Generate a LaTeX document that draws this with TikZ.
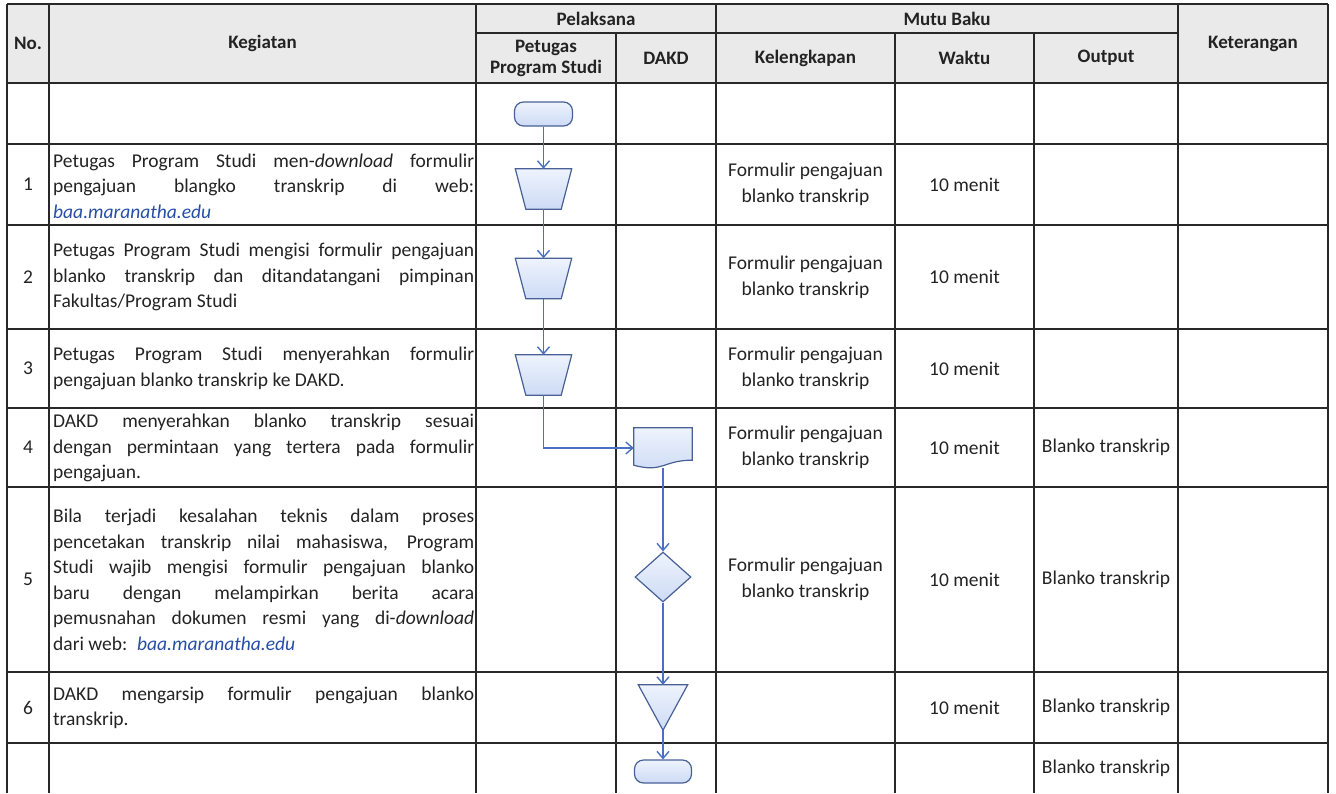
\documentclass[tikz,border=0pt]{standalone}
\usepackage{fontspec}
\setmainfont{Carlito}
\usepackage{tikz}
\usetikzlibrary{calc, arrows.meta, shapes.geometric}

\definecolor{garis}{RGB}{40,40,40}
\definecolor{kepala}{RGB}{234,234,234}
\definecolor{isi}{RGB}{205,219,245}
\definecolor{isiatas}{RGB}{238,243,253}
\definecolor{tepi}{RGB}{72,96,150}
\definecolor{alur}{RGB}{74,112,196}
\definecolor{tautan}{RGB}{38,78,168}
\definecolor{tinta}{RGB}{35,35,35}

\tikzstyle{judul} = [
    font = \fontsize{19}{21}\selectfont\bfseries,
    text = tinta,
    align = center,
    inner sep = 0
]
\tikzstyle{sel} = [
    font = \fontsize{19.5}{26}\selectfont,
    text = tinta,
    align = center,
    inner sep = 0
]
\tikzstyle{kegiatan} = [
    font = \fontsize{19.5}{25.5}\selectfont,
    text = tinta,
    align = left,
    anchor = west,
    inner sep = 0
]
\tikzstyle{bentuk} = [
    draw = tepi,
    line width = 1.2pt,
    top color = isiatas,
    bottom color = isi
]
\tikzstyle{terminal} = [
    bentuk,
    rectangle,
    rounded corners = 9pt,
    minimum width = 58pt,
    minimum height = 24pt,
    inner sep = 0
]
\tikzstyle{keputusan} = [
    bentuk,
    diamond,
    minimum width = 56pt,
    minimum height = 50pt,
    inner sep = 0
]
\tikzstyle{kotak} = [
    rectangle,
    inner sep = 0
]
\tikzstyle{alir} = [
    draw = alur,
    line width = 1.4pt,
    -{Straight Barb[length=7pt, width=12pt]}
]

\newcommand{\jl}[1]{\makebox[421pt][s]{#1}}
\newcommand{\web}{\textit{\color{tautan}baa.maranatha.edu}}

\begin{document}
\begin{tikzpicture}[x=1pt, y=-1pt]
        \useasboundingbox (0,0) rectangle (1336,793);

        %% Header background
        \fill[kepala] (7,4) rectangle (1328,83);

        %% Grid
        \begin{scope}[draw=garis, line width=1.6pt]
            \draw (7,4) -- (1328,4);
            \draw (476,33) -- (1178,33);
            \foreach \y in {83,144,225,329,408,487,672,743}
                \draw (7,\y) -- (1328,\y);
            \foreach \x in {7,49,476,716,1178,1328}
                \draw (\x,4) -- (\x,793);
            \foreach \x in {616,895,1034}
                \draw (\x,33) -- (\x,793);
        \end{scope}

        %% Header
        \node (hno)   [judul] at (28,43.5)   {No.};
        \node (hkeg)  [judul] at (262.5,43.5) {Kegiatan};
        \node (hpel)  [judul] at (596,18.5)  {Pelaksana};
        \node (hpet)  [judul] at (546,58)    {Petugas\\Program Studi};
        \node (hdakd) [judul] at (666,58)    {DAKD};
        \node (hmutu) [judul] at (947,18.5)  {Mutu Baku};
        \node (hkel)  [judul] at (805.5,58)  {Kelengkapan};
        \node (hwak)  [judul] at (964.5,58)  {Waktu};
        \node (hout)  [judul] at (1106,58)   {Output};
        \node (hket)  [judul] at (1253,43.5) {Keterangan};

        %% Numbers
        \node (no1) [sel] at (28,184.5) {1};
        \node (no2) [sel] at (28,277)   {2};
        \node (no3) [sel] at (28,368.5) {3};
        \node (no4) [sel] at (28,447.5) {4};
        \node (no5) [sel] at (28,579.5) {5};
        \node (no6) [sel] at (28,707.5) {6};

        %% Kegiatan
        \node (keg1) [kegiatan] at (53,186) {\jl{Petugas Program Studi men-\textit{download} formulir}\\
            \jl{pengajuan blangko transkrip di web:}\\
            \web};
        \node (keg2) [kegiatan] at (53,277) {\jl{Petugas Program Studi mengisi formulir pengajuan}\\
            \jl{blanko transkrip dan ditandatangani pimpinan}\\
            Fakultas/Program Studi};
        \node (keg3) [kegiatan] at (53,368.5) {\jl{Petugas Program Studi menyerahkan formulir}\\
            pengajuan blanko transkrip ke DAKD.};
        \node (keg4) [kegiatan] at (53,448) {\jl{DAKD menyerahkan blanko transkrip sesuai}\\
            \jl{dengan permintaan yang tertera pada formulir}\\
            pengajuan.};
        \node (keg5) [kegiatan] at (53,580) {\jl{Bila terjadi kesalahan teknis dalam proses}\\
            \jl{pencetakan transkrip nilai mahasiswa, Program}\\
            \jl{Studi wajib mengisi formulir pengajuan blanko}\\
            \jl{baru dengan melampirkan berita acara}\\
            \jl{pemusnahan dokumen resmi yang di-\textit{download}}\\
            dari web:\enspace\web};
        \node (keg6) [kegiatan] at (53,708) {\jl{DAKD mengarsip formulir pengajuan blanko}\\
            transkrip.};

        %% Kelengkapan
        \node (kel1) [sel] at (805.5,184.5) {Formulir pengajuan\\blanko transkrip};
        \node (kel2) [sel] at (805.5,277)   {Formulir pengajuan\\blanko transkrip};
        \node (kel3) [sel] at (805.5,368.5) {Formulir pengajuan\\blanko transkrip};
        \node (kel4) [sel] at (805.5,447.5) {Formulir pengajuan\\blanko transkrip};
        \node (kel5) [sel] at (805.5,579.5) {Formulir pengajuan\\blanko transkrip};

        %% Waktu
        \node (wak1) [sel] at (964.5,184.5) {10 menit};
        \node (wak2) [sel] at (964.5,277)   {10 menit};
        \node (wak3) [sel] at (964.5,368.5) {10 menit};
        \node (wak4) [sel] at (964.5,447.5) {10 menit};
        \node (wak5) [sel] at (964.5,579.5) {10 menit};
        \node (wak6) [sel] at (964.5,707.5) {10 menit};

        %% Output
        \node (out4) [sel] at (1106,447.5) {Blanko transkrip};
        \node (out5) [sel] at (1106,579.5) {Blanko transkrip};
        \node (out6) [sel] at (1106,707.5) {Blanko transkrip};
        \node (out7) [sel] at (1106,768)   {Blanko transkrip};

        %% Flowchart
        \node (mulai)   [terminal]  at (543.5,114)   {};
        \node (isi1)    [kotak, minimum width=56pt, minimum height=40pt] at (543.5,189)   {};
        \node (isi2)    [kotak, minimum width=56pt, minimum height=40pt] at (543.5,278.5) {};
        \node (isi3)    [kotak, minimum width=56pt, minimum height=40pt] at (543.5,375)   {};
        \node (dok)     [kotak, minimum width=58pt, minimum height=40pt] at (663,448) {};
        \node (cek)     [keputusan] at (663,577)     {};
        \node (arsip)   [kotak, minimum width=49pt, minimum height=45pt] at (663,707.5) {};
        \node (selesai) [terminal, minimum width=57pt, minimum height=23pt] at (663,771.5) {};

        \foreach \n in {isi1,isi2,isi3}
            \path[bentuk] (\n.north west) -- (\n.north east) -- ($(\n.south east)+(-10.5,0)$)
                -- ($(\n.south west)+(10.5,0)$) -- cycle;
        \path[bentuk] (dok.north west) -- (dok.north east) -- ($(dok.south east)+(0,-8)$)
            .. controls ($(dok.south)+(0,-8)$) and ($(dok.south)+(0,5)$) .. ($(dok.south west)+(0,-3)$) -- cycle;
        \path[bentuk] (arsip.north west) -- (arsip.north east) -- (arsip.south) -- cycle;

        \draw[alir] (mulai) -- (isi1);
        \draw[alir] (isi1) -- (isi2);
        \draw[alir] (isi2) -- (isi3);
        \draw[alir] (isi3) |- (dok);
        \draw[alir] (dok) -- (cek);
        \draw[alir] (cek) -- (arsip);
        \draw[alir] (arsip) -- (selesai);

    \end{tikzpicture}
\end{document}
